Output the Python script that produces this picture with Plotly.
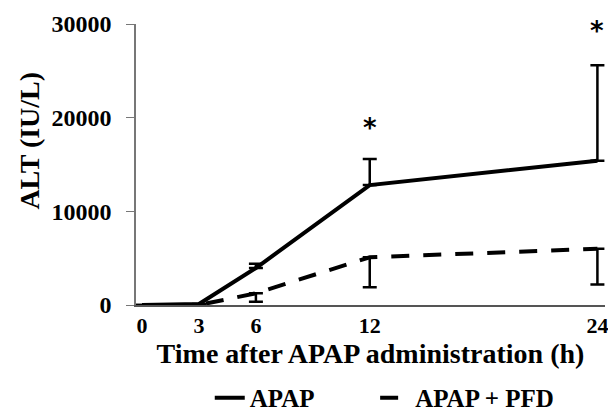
import plotly.graph_objects as go

time_h = [0, 3, 6, 12, 24]
apap_mean = [0, 100, 3950, 12800, 15400]
apap_err_up = [0, 0, 450, 2800, 10200]
pfd_mean = [0, 0, 1250, 5100, 6000]
pfd_err_down = [0, 0, 900, 3200, 3800]
star_x = [12, 24]
star_y = [18900, 29200]
y_ticks = [0, 10000, 20000, 30000]
x_ticks = [0, 3, 6, 12, 24]

FONT = "Liberation Serif"

fig = go.Figure()
fig.add_trace(go.Scatter(
    x=time_h, y=apap_mean, mode="lines", name="APAP", legend="legend",
    line=dict(color="black", width=4),
    error_y=dict(type="data", symmetric=False, array=apap_err_up,
                 arrayminus=[0]*len(apap_err_up), color="black",
                 thickness=2.5, width=7),
))
fig.add_trace(go.Scatter(
    x=time_h, y=pfd_mean, mode="lines", name="APAP + PFD", legend="legend2",
    line=dict(color="black", width=4, dash="18px,14px"),
    error_y=dict(type="data", symmetric=False, array=[0]*len(pfd_err_down),
                 arrayminus=pfd_err_down, color="black",
                 thickness=2.5, width=7),
))
for sx, sy in zip(star_x, star_y):
    fig.add_annotation(x=sx, y=sy, text="*", showarrow=False,
                       font=dict(family="DejaVu Sans", size=26, color="black", weight="bold"))

fig.add_annotation(xref="paper", yref="paper", x=-0.226, y=0.585,
                   text="ALT (IU/L)", textangle=-90, showarrow=False,
                   xanchor="center", yanchor="middle",
                   font=dict(family=FONT, size=28, weight="bold", color="black"))

leg_common = dict(orientation="h", xref="container", yref="container",
                  xanchor="left", y=0.034, yanchor="middle",
                  font=dict(family=FONT, size=25, weight="bold"))

fig.update_layout(
    width=608, height=412,
    margin=dict(l=136, r=3, t=24, b=107, autoexpand=False),
    paper_bgcolor="white", plot_bgcolor="white",
    font=dict(family=FONT, color="black", weight="bold"),
    showlegend=True,
    legend=dict(x=0.345, **leg_common),
    legend2=dict(x=0.617, **leg_common),
)
fig.update_xaxes(
    range=[-0.32, 24.4], tickvals=x_ticks, automargin=False,
    ticklabeloverflow="allow",
    tickfont=dict(family=FONT, size=22, weight="bold"), showgrid=False, zeroline=False,
    showline=True, linecolor="#555", linewidth=1.5, ticks="",
    title=dict(text="Time after APAP administration (h)",
               font=dict(family=FONT, size=28, weight="bold"), standoff=4),
)
fig.update_yaxes(
    range=[0, 30000], tickvals=y_ticks, tickformat="d", automargin=False,
    ticklabeloverflow="allow",
    tickfont=dict(family=FONT, size=24, weight="bold"), showgrid=False, zeroline=False,
    showline=True, linecolor="#777", linewidth=1.5, ticks="outside",
    ticklen=8, tickcolor="#777", ticklabelstandoff=10,
)

fig.write_html("out.html", config={"displayModeBar": False},
               post_script="document.body.style.margin='0';")
